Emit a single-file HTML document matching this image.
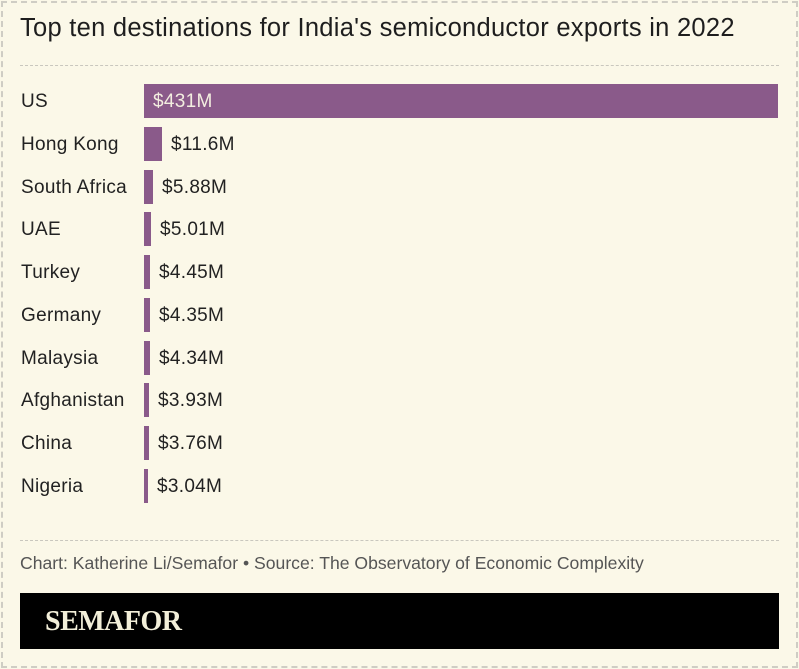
<!DOCTYPE html>
<html><head><meta charset="utf-8"><style>
*{margin:0;padding:0;box-sizing:border-box}
body{width:799px;height:669px;background:#fbf8e8;font-family:"Liberation Sans",sans-serif;position:relative;overflow:hidden;color:#222}
.frame{position:absolute;left:1px;top:1px;width:797px;height:667px;border:2px dashed #cfcdc4}
.t{position:absolute;left:20px;top:14px;font-size:25.5px;color:#1e1e1e;white-space:nowrap;letter-spacing:0.27px}
.hr{position:absolute;left:20px;width:759px;border-top:1.5px dashed #c9c7be}
.lab{position:absolute;left:21px;font-size:19px;color:#222;line-height:20px;white-space:nowrap;letter-spacing:0.3px}
.bar{position:absolute;left:144px;height:34px;background:#8a5a8a}
.v{position:absolute;font-size:19px;line-height:20px;color:#222;white-space:nowrap;letter-spacing:0.3px}
.foot{position:absolute;left:20px;top:553px;font-size:17.6px;color:#555;white-space:nowrap}
.logo{position:absolute;left:20px;top:593px;width:759px;height:56px;background:#000}
.logo span{position:absolute;left:25px;top:13px;font-family:"Liberation Serif",serif;font-weight:bold;font-size:28px;color:#f3efd9;letter-spacing:-0.5px}
</style></head><body>
<div class="frame"></div>
<div class="t">Top ten destinations for India's semiconductor exports in 2022</div>
<div class="hr" style="top:65px"></div>
<div class="bar" style="top:84px;width:634px"></div><div class="lab" style="top:92px">US</div><div class="v" style="left:153px;top:92px;color:#f3eee0">$431M</div>
<div class="bar" style="top:127px;width:18px"></div><div class="lab" style="top:135px">Hong Kong</div><div class="v" style="left:171px;top:135px">$11.6M</div>
<div class="bar" style="top:170px;width:9px"></div><div class="lab" style="top:178px">South Africa</div><div class="v" style="left:162px;top:178px">$5.88M</div>
<div class="bar" style="top:212px;width:7px"></div><div class="lab" style="top:220px">UAE</div><div class="v" style="left:160px;top:220px">$5.01M</div>
<div class="bar" style="top:255px;width:6px"></div><div class="lab" style="top:263px">Turkey</div><div class="v" style="left:159px;top:263px">$4.45M</div>
<div class="bar" style="top:298px;width:6px"></div><div class="lab" style="top:306px">Germany</div><div class="v" style="left:159px;top:306px">$4.35M</div>
<div class="bar" style="top:341px;width:6px"></div><div class="lab" style="top:349px">Malaysia</div><div class="v" style="left:159px;top:349px">$4.34M</div>
<div class="bar" style="top:383px;width:5px"></div><div class="lab" style="top:391px">Afghanistan</div><div class="v" style="left:158px;top:391px">$3.93M</div>
<div class="bar" style="top:426px;width:5px"></div><div class="lab" style="top:434px">China</div><div class="v" style="left:158px;top:434px">$3.76M</div>
<div class="bar" style="top:469px;width:4px"></div><div class="lab" style="top:477px">Nigeria</div><div class="v" style="left:157px;top:477px">$3.04M</div>
<div class="hr" style="top:540px"></div>
<div class="foot">Chart: Katherine Li/Semafor • Source: The Observatory of Economic Complexity</div>
<div class="logo"><span>SEMAFOR</span></div>
</body></html>
